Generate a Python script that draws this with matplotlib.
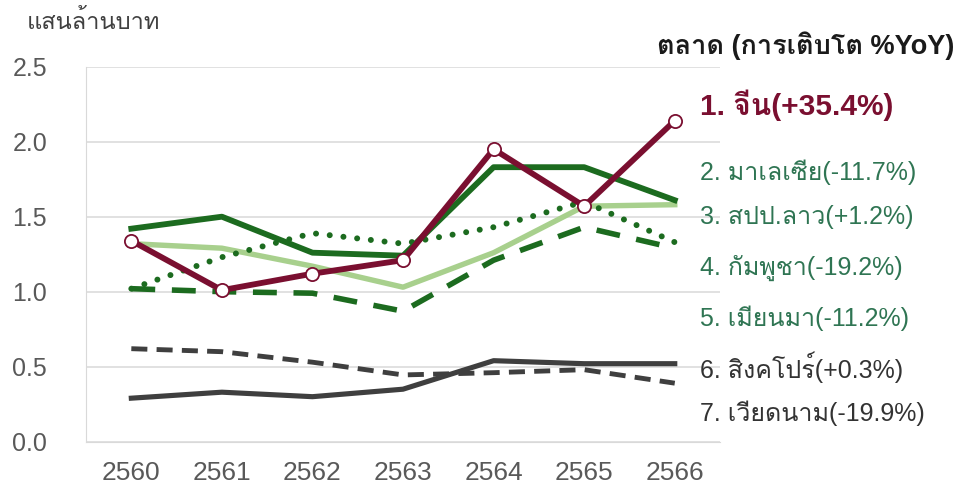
import numpy as np
import matplotlib
matplotlib.use("Agg")
import matplotlib.pyplot as plt
from matplotlib import font_manager
from matplotlib.ft2font import FT2Font

# find an installed font that has Thai glyphs
thai_font = None
for f in font_manager.fontManager.ttflist:
    try:
        if 0x0E08 in FT2Font(f.fname).get_charmap():
            thai_font = f.name
            break
    except Exception:
        pass

fams = ['Liberation Sans', 'DejaVu Sans']
if thai_font:
    fams = ['Liberation Sans', thai_font, 'DejaVu Sans']
plt.rcParams['font.family'] = fams

years = ['2560', '2561', '2562', '2563', '2564', '2565', '2566']
china = [1.34, 1.01, 1.12, 1.21, 1.95, 1.57, 2.14]
malaysia = [1.42, 1.50, 1.26, 1.24, 1.83, 1.83, 1.61]
laos = [1.02, 1.23, 1.39, 1.32, 1.43, 1.60, 1.33]
cambodia = [1.32, 1.29, 1.17, 1.03, 1.26, 1.57, 1.58]
myanmar = [1.02, 1.00, 0.99, 0.87, 1.21, 1.43, 1.29]
singapore = [0.29, 0.33, 0.30, 0.35, 0.54, 0.52, 0.52]
vietnam = [0.62, 0.60, 0.53, 0.445, 0.46, 0.48, 0.39]

labels = ['1. จีน(+35.4%)', '2. มาเลเซีย(-11.7%)', '3. สปป.ลาว(+1.2%)',
          '4. กัมพูชา(-19.2%)', '5. เมียนมา(-11.2%)', '6. สิงคโปร์(+0.3%)',
          '7. เวียดนาม(-19.9%)']
label_y = [0.789, 0.654, 0.563, 0.461, 0.360, 0.262, 0.169]

red = '#7a0f30'
dgreen = '#1c6b1f'
lgreen = '#a8d08d'
gray = '#3f3f3f'

fig = plt.figure(figsize=(9.57, 4.97), dpi=100)
ax = fig.add_axes([0.0899, 0.1113, 0.6625, 0.7545])

x = np.arange(len(years))
ax.plot(x, vietnam, color=gray, lw=3.5, dashes=(3.3, 1.9), zorder=3)
ax.plot(x, singapore, color=gray, lw=3.7, zorder=4)
ax.plot(x, cambodia, color=lgreen, lw=3.9, zorder=3)
ax.plot(x, myanmar, color=dgreen, lw=4.0, dashes=(4.3, 3.0), zorder=4)
ax.plot(x, laos, color=dgreen, lw=4.3, dashes=(0.01, 2.3), dash_capstyle='round', zorder=4)
ax.plot(x, malaysia, color=dgreen, lw=4.2, zorder=5)
ax.plot(x, china, color=red, lw=4.2, marker='o', ms=9.5, mfc='white', mec=red, mew=1.3, zorder=6)

ax.set_xlim(-0.5, 6.5)
ax.set_ylim(0, 2.5)
ax.set_yticks([0, 0.5, 1.0, 1.5, 2.0, 2.5])
ax.set_yticklabels(['0.0', '0.5', '1.0', '1.5', '2.0', '2.5'])
ax.set_xticks(x)
ax.set_xticklabels(years)
ax.grid(axis='y', color='#d9d9d9', lw=1.1)
ax.set_axisbelow(True)
for s in ['top', 'right']:
    ax.spines[s].set_visible(False)
ax.spines['left'].set_color('#d9d9d9')
ax.spines['bottom'].set_color('#d9d9d9')
ax.tick_params(axis='both', length=0, colors='#595959')
ax.tick_params(axis='y', labelsize=18, pad=28)
ax.tick_params(axis='x', labelsize=19, pad=14)

fig.text(0.028, 0.955, 'แสนล้านบาท', fontsize=17, color='#404040', va='center')
fig.text(0.997, 0.909, 'ตลาด (การเติบโต %YoY)', fontsize=19.5, fontweight='bold',
         color='#1a1a1a', ha='right', va='center')

colors = [red, '#2f7553', '#2f7553', '#2f7553', '#2f7553', '#333333', '#333333']
for i, lab in enumerate(labels):
    if i == 0:
        fig.text(0.731, label_y[i], lab, fontsize=21.5, fontweight='bold',
                 color=colors[i], va='center')
    else:
        fig.text(0.731, label_y[i], lab, fontsize=18, color=colors[i], va='center')

fig.savefig('out.png', dpi=100)
